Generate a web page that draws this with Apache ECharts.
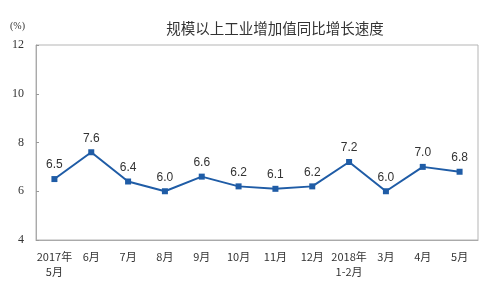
<!DOCTYPE html>
<html>
<head>
<meta charset="utf-8">
<script src="https://cdn.jsdelivr.net/npm/echarts@6/dist/echarts.min.js"></script>
<style>html,body{margin:0;padding:0;background:#fff;}#c{width:500px;height:297px;}</style>
</head>
<body>
<div id="c"></div>
<script>
var categories = ['2017年\n5月','6月','7月','8月','9月','10月','11月','12月','2018年\n1-2月','3月','4月','5月'];
var growth = [6.5, 7.6, 6.4, 6.0, 6.6, 6.2, 6.1, 6.2, 7.2, 6.0, 7.0, 6.8];
var yTicks = [4, 6, 8, 10, 12];
var titleText = '规模以上工业增加值同比增长速度';
var unitText = '(%)';

var chart = echarts.init(document.getElementById('c'), null, {renderer: 'canvas'});
chart.setOption({
  animation: false,
  backgroundColor: '#fff',
  title: {
    text: titleText,
    left: 270, top: 16, textAlign: 'center',
    textStyle: {fontSize: 14.5, fontWeight: 'normal', color: '#333', fontFamily: 'Noto Sans CJK SC'}
  },
  graphic: [{
    type: 'text', left: 10, top: 21,
    style: {text: unitText, fontSize: 10, fill: '#333', fontFamily: 'Liberation Serif'}
  }],
  grid: {left: 36, right: 22, top: 45, bottom: 57, show: true, borderColor: '#b5b5b5', borderWidth: 1},
  xAxis: {
    type: 'category',
    data: categories,
    boundaryGap: true,
    axisLine: {lineStyle: {color: '#aaa', width: 1}},
    axisTick: {inside: true, length: 4, lineStyle: {color: '#999'}},
    axisLabel: {interval: 0, fontSize: 11, color: '#333', lineHeight: 15, margin: 9, fontFamily: 'Noto Sans CJK SC'}
  },
  yAxis: {
    type: 'value', min: yTicks[0], max: yTicks[yTicks.length - 1], interval: 2,
    axisLine: {show: true, lineStyle: {color: '#aaa', width: 1}},
    axisTick: {show: true, inside: true, length: 3, lineStyle: {color: '#999'}},
    splitLine: {show: false},
    axisLabel: {fontSize: 12, color: '#333', margin: 12, fontFamily: 'Liberation Serif'}
  },
  series: [{
    type: 'line',
    data: growth,
    symbol: 'rect', symbolSize: 6,
    lineStyle: {color: '#1f5ca6', width: 2},
    itemStyle: {color: '#1f5ca6'},
    label: {show: true, position: 'top', distance: 5, fontSize: 12, color: '#333', fontFamily: 'Liberation Sans',
      formatter: function(p){ return p.value.toFixed(1); }}
  }]
});
</script>
</body>
</html>
